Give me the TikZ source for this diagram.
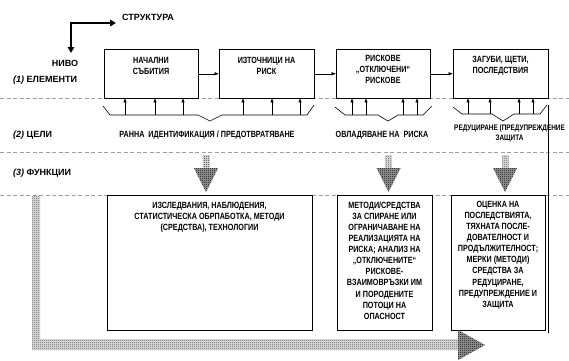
\documentclass[tikz,border=0pt]{standalone}
\usepackage{fontspec}
\setmainfont{Liberation Sans}
\newfontfamily\narrowfont[FakeStretch=0.8]{Liberation Sans}
\usetikzlibrary{arrows.meta,patterns}

% fine checkerboard for the heads of the block arrows
\pgfdeclarepatternformonly{checker}{\pgfpointorigin}{\pgfqpoint{2pt}{2pt}}{\pgfqpoint{2pt}{2pt}}{%
  \pgfpathrectangle{\pgfpointorigin}{\pgfqpoint{1pt}{1pt}}%
  \pgfpathrectangle{\pgfqpoint{1pt}{1pt}}{\pgfqpoint{1pt}{1pt}}%
  \pgfusepath{fill}}
% sparse dots for the shafts
\pgfdeclarepatternformonly{finedots}{\pgfpointorigin}{\pgfqpoint{2pt}{2pt}}{\pgfqpoint{2pt}{2pt}}{%
  \pgfpathrectangle{\pgfpointorigin}{\pgfqpoint{1pt}{1pt}}%
  \pgfusepath{fill}}

\tikzset{
  lbl/.style={font=\bfseries\fontsize{9}{11}\selectfont, inner sep=0pt},
  boxtxt/.style={font=\narrowfont\bfseries\fontsize{9}{11.1}\selectfont, align=center, inner sep=0pt},
  smalltxt/.style={font=\narrowfont\bfseries\fontsize{8}{10}\selectfont, align=center, inner sep=0pt},
  elem/.style={draw=black, line width=0.8pt, fill=white, inner sep=0pt},
  sep/.style={draw=gray!75, line width=0.7pt, dash pattern=on 4pt off 2.5pt},
  link/.style={line width=0.5pt, -{Triangle[length=4pt,width=3pt]}},
  brace/.style={line width=0.6pt, line join=miter},
  shaftfill/.style={fill=black!18},
  shaft/.style={pattern=finedots, pattern color=black!80},
  headfill/.style={fill=black!38},
  head/.style={pattern=checker, pattern color=black},
}

\begin{document}
\begin{tikzpicture}[x=1pt, y=-1pt]
\useasboundingbox (0,0) rectangle (569,360);
\fill[white] (0,0) rectangle (569,360);

% level separators
\draw[sep] (0,98) -- (569,98);
\draw[sep] (0,152) -- (569,152);
\draw[sep] (0,195) -- (569,195);

% structure / level axes
\coordinate (bend) at (71,23);
\coordinate (levelTip) at (71,53);
\coordinate (structTip) at (116,23);
\draw[line width=1.8pt, line join=miter,
      {Triangle[length=6pt,width=6.5pt]}-{Triangle[length=6pt,width=6.5pt]}]
  (levelTip) -- (bend) -- (structTip);
\node[lbl, anchor=west] (struct) at (122,17) {СТРУКТУРА};
\node[lbl] (level) at (65,63) {НИВО};
\node[lbl, anchor=west] (lev1) at (13,80) {\textit{(1)} ЕЛЕМЕНТИ};
\node[lbl, anchor=west] (lev2) at (13,135) {\textit{(2)} ЦЕЛИ};
\node[lbl, anchor=west] (lev3) at (13,173) {\textit{(3)} ФУНКЦИИ};

% right border line
\coordinate (rtop) at (548,105);
\coordinate (rbot) at (548,333);
\draw[line width=0.8pt] (rtop) -- (rbot);

% elements
\node[elem, minimum width=94pt, minimum height=48.5pt] (b1) at (151,73.75) {};
\node[elem, minimum width=95pt, minimum height=48.5pt] (b2) at (266.5,73.75) {};
\node[elem, minimum width=94pt, minimum height=48.5pt] (b3) at (383,73.75) {};
\node[elem, minimum width=95pt, minimum height=48.5pt] (b4) at (500.5,73.75) {};
\node[boxtxt] (t1) at (151,65.5) {НАЧАЛНИ\\СЪБИТИЯ};
\node[boxtxt] (t2) at (266.5,65.5) {ИЗТОЧНИЦИ НА\\РИСК};
\node[boxtxt] (t3) at (383,69.5) {РИСКОВЕ\\„ОТКЛЮЧЕНИ“\\РИСКОВЕ};
\node[boxtxt] (t4) at (500.5,65.5) {ЗАГУБИ, ЩЕТИ,\\ПОСЛЕДСТВИЯ};
\draw[link] (b1) -- (b2);
\draw[link] (b2) -- (b3);
\draw[link] (b3) -- (b4);

% braces with feeding arrows
\draw[brace] (103,106) -- (110,115) -- (198,115) -- (210,121) -- (222,115) -- (307,115) -- (314,105);
\foreach \x in {125,155,183} \draw[link] (\x,115) -- (\x,115 |- b1.south);
\foreach \x in {243,272,300} \draw[link] (\x,115) -- (\x,115 |- b2.south);
\draw[brace] (335,107) -- (345,115) -- (378,115) -- (388,121) -- (398,115) -- (423,115) -- (432,106);
\foreach \x in {352,366,403,417} \draw[link] (\x,115) -- (\x,115 |- b3.south);
\draw[brace] (453,107) -- (462,114) -- (492,114) -- (503,121) -- (514,114) -- (540,114) -- (547,105);
\foreach \x in {468,490,519,533} \draw[link] (\x,114) -- (\x,114 |- b4.south);

% goals
\node[boxtxt] (g1) at (207,135) {РАННА\ \ ИДЕНТИФИКАЦИЯ / ПРЕДОТВРАТЯВАНЕ};
\node[boxtxt] (g2) at (382,135) {ОВЛАДЯВАНЕ НА\ \ РИСКА};
\node[smalltxt] (g3) at (509.5,133) {РЕДУЦИРАНЕ (ПРЕДУПРЕЖДЕНИЕ\\ЗАЩИТА};

% block arrows from goals to functions
\foreach \cx in {206,388.5,505} {
  \fill[shaftfill] (\cx-3.5,155) rectangle (\cx+3.5,168);
  \fill[shaft] (\cx-3.5,155) rectangle (\cx+3.5,168);
  \fill[headfill] (\cx-12,168) -- (\cx+12,168) -- (\cx,192) -- cycle;
  \fill[head] (\cx-12,168) -- (\cx+12,168) -- (\cx,192) -- cycle;
}

% functions
\node[elem, minimum width=205pt, minimum height=135pt] (c1) at (209.5,262.5) {};
\node[elem, minimum width=95pt, minimum height=135pt] (c2) at (384.5,262.5) {};
\node[elem, minimum width=94pt, minimum height=135pt] (c3) at (498,262.5) {};
\node[boxtxt] (f1) at (209.5,217.5) {ИЗСЛЕДВАНИЯ, НАБЛЮДЕНИЯ,\\СТАТИСТИЧЕСКА ОБРПАБОТКА, МЕТОДИ\\(СРЕДСТВА), ТЕХНОЛОГИИ};
\node[boxtxt] (f2) at (384.5,260.5) {МЕТОДИ/СРЕДСТВА\\ЗА СПИРАНЕ ИЛИ\\ОГРАНИЧАВАНЕ НА\\РЕАЛИЗАЦИЯТА НА\\РИСКА; АНАЛИЗ НА\\„ОТКЛЮЧЕНИТЕ“\\РИСКОВЕ-\\ВЗАИМОВРЪЗКИ ИМ\\И ПОРОДЕНИТЕ\\ПОТОЦИ НА\\ОПАСНОСТ};
\node[boxtxt] (f3) at (498,255) {ОЦЕНКА НА\\ПОСЛЕДСТВИЯТА,\\ТЯХНАТА ПОСЛЕ-\\ДОВАТЕЛНОСТ И\\ПРОДЪЛЖИТЕЛНОСТ;\\МЕРКИ (МЕТОДИ)\\СРЕДСТВА ЗА\\РЕДУЦИРАНЕ,\\ПРЕДУПРЕЖДЕНИЕ И\\ЗАЩИТА};

% feedback flow along the bottom
\fill[shaftfill] (32,196) -- (40,196) -- (40,339) -- (458,339) -- (458,350) -- (32,350) -- cycle;
\fill[shaft] (32,196) -- (40,196) -- (40,339) -- (458,339) -- (458,350) -- (32,350) -- cycle;
\fill[headfill] (458,330) -- (485,345) -- (458,360) -- cycle;
\fill[head] (458,330) -- (485,345) -- (458,360) -- cycle;
\end{tikzpicture}
\end{document}
